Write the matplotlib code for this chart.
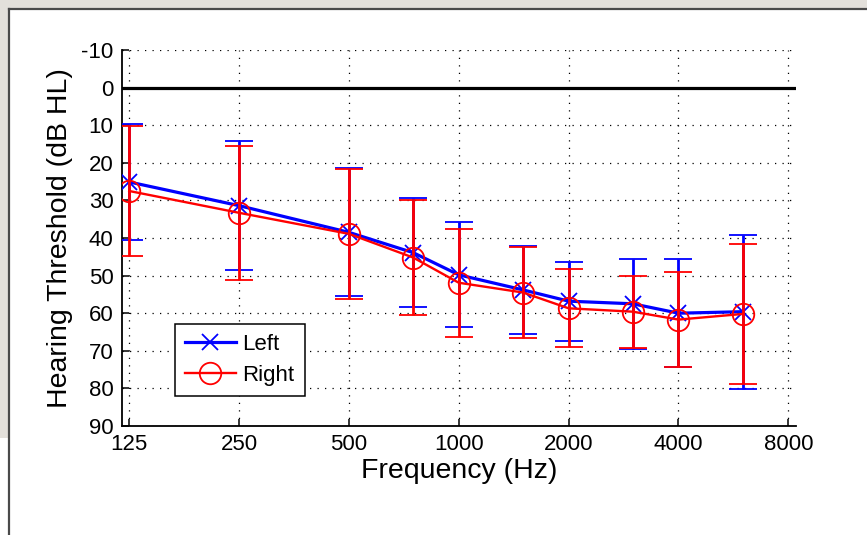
import matplotlib
matplotlib.use('Agg')
import matplotlib.pyplot as plt
from matplotlib.patches import Rectangle
from matplotlib.lines import Line2D

plt.rcParams['font.family'] = ['Liberation Sans', 'DejaVu Sans']
plt.rcParams['axes.unicode_minus'] = False

# Datos (umbral auditivo medio y desviacion por frecuencia)
freqs = [125, 250, 500, 750, 1000, 1500, 2000, 3000, 4000, 6000]
left_mean = [25.1, 31.4, 38.5, 43.9, 49.8, 53.8, 56.8, 57.5, 60.0, 59.6]
left_sd = [15.5, 17.1, 17.0, 14.5, 14.0, 11.8, 10.5, 11.9, 14.4, 20.5]
right_mean = [27.5, 33.3, 38.9, 45.2, 51.9, 54.5, 58.7, 59.6, 61.7, 60.2]
right_sd = [17.4, 17.8, 17.3, 15.3, 14.3, 12.2, 10.4, 9.6, 12.6, 18.7]

xticks = [125, 250, 500, 1000, 2000, 4000, 8000]
yticks = list(range(-10, 91, 10))

fig = plt.figure(figsize=(8.67, 5.35), dpi=100)

# marco gris tipo captura de pantalla
gray = '#e3e0db'
fig.patches.append(Rectangle((0, 1 - 8 / 535), 1, 8 / 535, transform=fig.transFigure,
                             facecolor=gray, edgecolor='none', zorder=0))
fig.patches.append(Rectangle((0, 1 - 438 / 535), 8 / 867, 430 / 535, transform=fig.transFigure,
                             facecolor=gray, edgecolor='none', zorder=0))
fig.lines.append(Line2D([8.5 / 867, 1], [1 - 8.5 / 535, 1 - 8.5 / 535], transform=fig.transFigure,
                        color='#4a4a4a', lw=1.6))
fig.lines.append(Line2D([8.5 / 867, 8.5 / 867], [0, 1 - 8.5 / 535], transform=fig.transFigure,
                        color='#4a4a4a', lw=1.6))

ax = fig.add_axes([121.7 / 867, 109 / 535, 674 / 867, 376 / 535])

ax.errorbar(freqs, left_mean, yerr=left_sd, color='blue', lw=2.3, marker='x', ms=11,
            mew=1.3, capsize=10, capthick=2.4, elinewidth=2.0, zorder=3)
ax.errorbar(freqs, right_mean, yerr=right_sd, color='red', lw=1.7, marker='o', ms=15.5,
            mfc='none', mew=1.3, capsize=10, capthick=2.4, elinewidth=2.0, zorder=4)

ax.axhline(0, color='black', lw=2.3, zorder=2)

ax.set_xscale('log', base=2)
ax.set_xlim(119.2, 8380)
ax.set_ylim(90, -10)
ax.set_xticks(xticks)
ax.set_xticklabels([str(v) for v in xticks])
ax.minorticks_off()
ax.set_yticks(yticks)

ax.grid(True, color='black', linestyle=(0, (1, 5)), lw=0.9)
ax.spines['top'].set_visible(False)
ax.spines['right'].set_visible(False)
ax.spines['left'].set_linewidth(1.3)
ax.spines['bottom'].set_linewidth(1.3)
ax.tick_params(direction='in', length=5, width=1.1, labelsize=16, pad=6)

ax.set_xlabel('Frequency (Hz)', fontsize=20.5, labelpad=2)
ax.set_ylabel('Hearing Threshold (dB HL)', fontsize=20.5, labelpad=6)

handles = [Line2D([], [], color='blue', lw=2.3, marker='x', ms=11, mew=1.3),
           Line2D([], [], color='red', lw=1.7, marker='o', ms=15.5, mfc='none', mew=1.3)]
leg = ax.legend(handles, ['Left', 'Right'], loc='lower left', bbox_to_anchor=(0.0785, 0.0798),
                borderaxespad=0, fontsize=16, handlelength=2.3, handletextpad=0.3,
                fancybox=False, framealpha=1, edgecolor='black', borderpad=0.45,
                labelspacing=0.45)
leg.get_frame().set_linewidth(1.1)

fig.savefig('out.png', dpi=100)
